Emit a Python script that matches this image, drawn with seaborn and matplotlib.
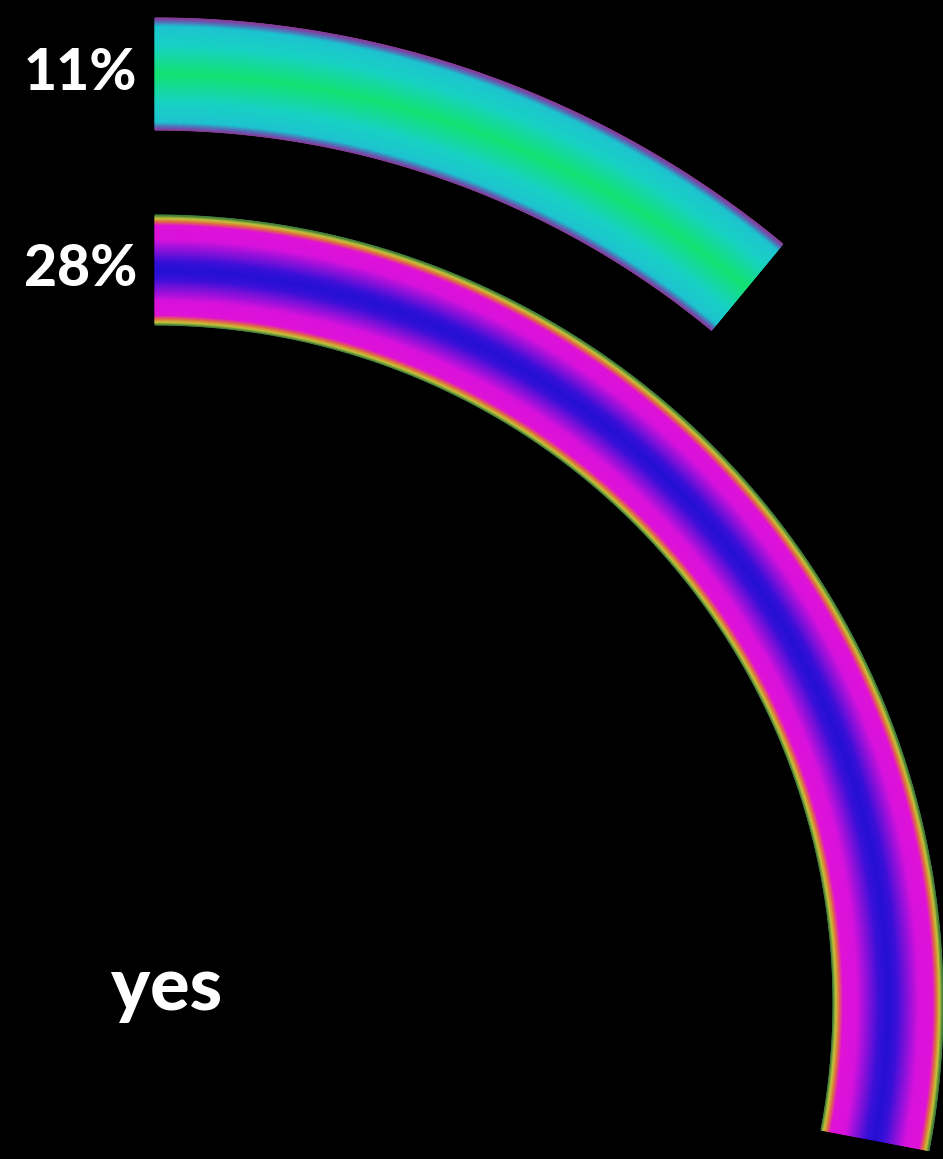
import numpy as np
import matplotlib
matplotlib.use('Agg')
import matplotlib.pyplot as plt
from matplotlib.colors import LinearSegmentedColormap
import seaborn as sns

# data
category = 'yes'
ring_labels = ['11%', '28%']
ring_values = [11, 28]  # percent of full circle

# gradient stops across ring width (0 = inner edge, 1 = outer edge)
ring_stops = [
    [(0.0, '#8a3c9a'), (0.03, '#5a6cb8'), (0.07, '#1ec4d0'), (0.25, '#18d2c4'),
     (0.5, '#12e272'), (0.75, '#18d2c4'), (0.93, '#1ec4d0'), (0.97, '#5a6cb8'), (1.0, '#8a3c9a')],
    [(0.0, '#3a7a3a'), (0.025, '#c8c838'), (0.055, '#e07040'), (0.09, '#e012d8'),
     (0.22, '#d812dc'), (0.42, '#3a10d8'), (0.5, '#2410d4'), (0.58, '#3a10d8'),
     (0.78, '#d812dc'), (0.91, '#e012d8'), (0.945, '#e07040'), (0.975, '#c8c838'), (1.0, '#3a7a3a')],
]

sns.set_theme(style='dark', rc={'figure.facecolor': 'black', 'axes.facecolor': 'black'})
plt.rcParams['font.family'] = ['Lato', 'DejaVu Sans']

fig = plt.figure(figsize=(9.43, 11.59), dpi=100)
ax = fig.add_axes([0, 0, 1, 1])
ax.set_xlim(0, 943)
ax.set_ylim(1159, 0)
ax.set_aspect('equal')
ax.axis('off')

# ring geometry in pixels
cx, cy = 155, 1003
outer = [985, 788]
width = [112, 110]

for i, (val, lab) in enumerate(zip(ring_values, ring_labels)):
    r_out = outer[i]
    r_in = r_out - width[i]
    sweep = val / 100 * 360
    r = np.linspace(r_in, r_out, 160)
    t = np.radians(np.linspace(90, 90 - sweep, 500))
    R, T = np.meshgrid(r, t)
    X = cx + R * np.cos(T)
    Y = cy - R * np.sin(T)
    C = (R - r_in) / (r_out - r_in)
    cmap = LinearSegmentedColormap.from_list('ring%d' % i, ring_stops[i])
    ax.pcolormesh(X, Y, C, cmap=cmap, shading='gouraud', vmin=0, vmax=1)

    ax.text(cx - 18, cy - (r_in + r_out) / 2, lab, color='white', fontsize=41,
            fontweight='black', ha='right', va='center')

ax.text(167, 1010, category, color='white', fontsize=53, fontweight='black',
        ha='center', va='baseline')

fig.savefig('out.png', dpi=100, facecolor='black')
